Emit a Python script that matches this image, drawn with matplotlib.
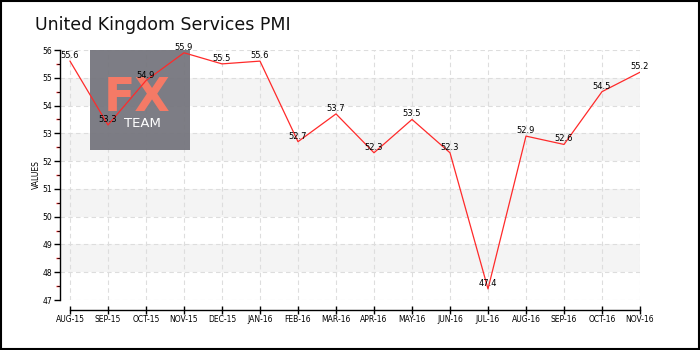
import matplotlib
matplotlib.use("Agg")
import matplotlib.pyplot as plt
from matplotlib.patches import Rectangle
from matplotlib.ticker import MultipleLocator
from matplotlib import font_manager

months = ["AUG-15", "SEP-15", "OCT-15", "NOV-15", "DEC-15", "JAN-16", "FEB-16", "MAR-16",
          "APR-16", "MAY-16", "JUN-16", "JUL-16", "AUG-16", "SEP-16", "OCT-16", "NOV-16"]
values = [55.6, 53.3, 54.9, 55.9, 55.5, 55.6, 52.7, 53.7, 52.3, 53.5, 52.3, 47.4, 52.9, 52.6, 54.5, 55.2]
title = "United Kingdom Services PMI"

names = {f.name for f in font_manager.fontManager.ttflist}
title_family = "Liberation Sans Narrow" if "Liberation Sans Narrow" in names else "DejaVu Sans"
title_size = 15 if title_family == "Liberation Sans Narrow" else 12.5

W, H = 700, 350
fig = plt.figure(figsize=(7, 3.5), dpi=100)
fig.patch.set_facecolor("white")
fig.patches.append(Rectangle((0.001, 0.002), 0.997, 0.995, transform=fig.transFigure,
                             fill=False, edgecolor="black", linewidth=1.5))

fig.text(35 / W, 1 - 30 / H, title, fontsize=title_size, va="baseline", ha="left",
         color="#111111", family=title_family)

ax = fig.add_axes([60 / W, 1 - 300 / H, 580 / W, 250 / H])
n = len(values)
ax.set_xlim(-0.263, n - 1)
ax.set_ylim(47, 56)

for lo in (48, 50, 52, 54):
    ax.axhspan(lo, lo + 1, color="#f4f4f4", zorder=0, lw=0)
for yv in range(47, 57):
    ax.axhline(yv, color="#dddddd", ls=(0, (4, 3)), lw=0.8, zorder=1)
for i in range(n):
    ax.axvline(i, color="#dddddd", ls=(0, (4, 3)), lw=0.8, zorder=1)

# logo
ax_logo = fig.add_axes([90 / W, 1 - 150 / H, 100 / W, 100 / H], zorder=2)
ax_logo.set_facecolor("#76767e")
ax_logo.patch.set_alpha(0.95)
ax_logo.set_xticks([]); ax_logo.set_yticks([])
for s in ax_logo.spines.values():
    s.set_visible(False)
ax_logo.text(0.47, 0.39, "FX", fontsize=33, fontweight="bold", color="#f47a66",
             ha="center", va="baseline", transform=ax_logo.transAxes)
ax_logo.text(0.52, 0.23, "TEAM", fontsize=9.5, color="white", ha="center", va="baseline",
             transform=ax_logo.transAxes)

ax2 = fig.add_axes(ax.get_position(), zorder=3, sharex=ax, sharey=ax)
ax2.patch.set_visible(False)
ax2.plot(range(n), values, color="#ff2a2a", lw=0.9, zorder=3)
for i, v in enumerate(values):
    ax2.annotate(f"{v}", (i, v), xytext=(0, 4), textcoords="offset points",
                 ha="center", va="center", fontsize=6, color="black")

ax.set_facecolor("white")
for a in (ax, ax2):
    for s in ("top", "right"):
        a.spines[s].set_visible(False)

ax2.spines["bottom"].set_visible(False)
ax2.spines["left"].set_visible(False)
ax2.tick_params(left=False, bottom=False, labelleft=False, labelbottom=False)

ax.spines["left"].set_linewidth(1)
ax.spines["bottom"].set_position(("outward", 7))
ax.spines["bottom"].set_bounds(0, n - 1)
ax.spines["bottom"].set_linewidth(1)
ax.set_xticks(range(n))
ax.set_xticklabels(months, fontsize=5.5)
ax.tick_params(axis="x", direction="inout", length=6, width=1, pad=0.5)
ax.yaxis.set_minor_locator(MultipleLocator(0.5))
ax.set_yticks(range(47, 57))
ax.set_yticklabels([str(v) for v in range(47, 57)], fontsize=5.5)
ax.tick_params(axis="y", which="major", length=4, width=1, pad=1.5)
ax.tick_params(axis="y", which="minor", length=3, width=1, color="#ee2222")
ax.set_ylabel("VALUES", fontsize=5.5, labelpad=1)

fig.savefig("out.png", dpi=100)
